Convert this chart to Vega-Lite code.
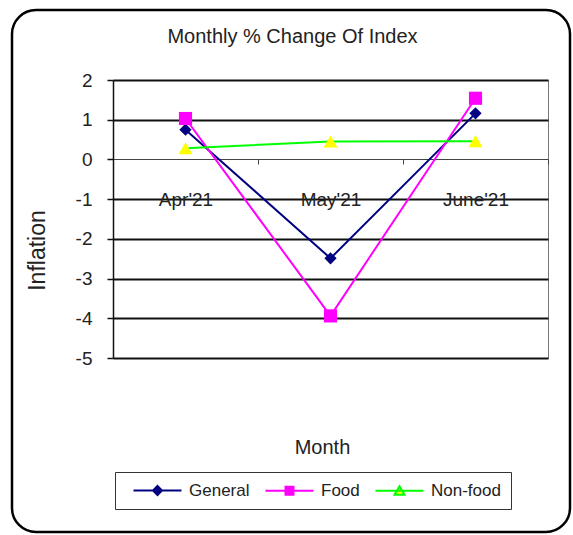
{
  "$schema": "https://vega.github.io/schema/vega-lite/v6.json",
  "width": 435,
  "height": 278,
  "autosize": {"type": "none"},
  "padding": {"left": 113, "top": 80, "right": 25, "bottom": 177},
  "background": "white",
  "config": {
    "font": "Liberation Sans",
    "view": {"stroke": "#777777", "strokeWidth": 1}
  },
  "title": {
    "text": "Monthly % Change Of Index",
    "font": "Liberation Sans",
    "fontSize": 20,
    "fontWeight": "normal",
    "color": "#222222",
    "anchor": "middle",
    "baseline": "alphabetic",
    "offset": -54,
    "dx": -38
  },
  "data": {
    "values": [
      {"month": "Apr'21", "series": "General", "value": 0.75},
      {"month": "May'21", "series": "General", "value": -2.49},
      {"month": "June'21", "series": "General", "value": 1.16},
      {"month": "Apr'21", "series": "Food", "value": 1.03},
      {"month": "May'21", "series": "Food", "value": -3.94},
      {"month": "June'21", "series": "Food", "value": 1.54},
      {"month": "Apr'21", "series": "Non-food", "value": 0.28},
      {"month": "May'21", "series": "Non-food", "value": 0.45},
      {"month": "June'21", "series": "Non-food", "value": 0.46}
    ]
  },
  "encoding": {
    "x": {
      "field": "month",
      "type": "ordinal",
      "sort": ["Apr'21", "May'21", "June'21"],
      "scale": {"type": "band", "paddingInner": 0, "paddingOuter": 0},
      "axis": {
        "orient": "bottom",
        "offset": -199,
        "labelAngle": 0,
        "domain": true,
        "domainColor": "#444444",
        "domainWidth": 1,
        "ticks": true,
        "tickBand": "extent",
        "tickSize": 5,
        "tickColor": "#444444",
        "labelFont": "Liberation Sans",
        "labelFontSize": 19,
        "labelColor": "#222222",
        "labelBaseline": "alphabetic",
        "labelPadding": 41,
        "grid": false,
        "title": "Month",
        "titleFont": "Liberation Sans",
        "titleFontSize": 20,
        "titleFontWeight": "normal",
        "titleColor": "#222222",
        "titleBaseline": "alphabetic",
        "titleX": 209,
        "titleY": 294
      }
    },
    "y": {
      "field": "value",
      "type": "quantitative",
      "scale": {"domain": [-5, 2], "nice": false, "zero": false},
      "axis": {
        "values": [-5, -4, -3, -2, -1, 0, 1, 2],
        "labelExpr": "'' + datum.value",
        "grid": true,
        "gridColor": {"condition": {"test": "datum.value === 0", "value": "transparent"}, "value": "#111111"},
        "gridWidth": 2,
        "domain": true,
        "domainColor": "#111111",
        "domainWidth": 1.5,
        "ticks": true,
        "tickSize": 6,
        "tickColor": "#111111",
        "tickWidth": 1.5,
        "labelFont": "Liberation Sans",
        "labelFontSize": 19,
        "labelColor": "#222222",
        "labelPadding": 15,
        "title": "Inflation",
        "titleFont": "Liberation Sans",
        "titleFontSize": 23,
        "titleFontWeight": "normal",
        "titleColor": "#222222",
        "titleAngle": -90,
        "titleAlign": "center",
        "titleBaseline": "middle",
        "titleX": -76,
        "titleY": 170
      }
    }
  },
  "resolve": {"scale": {"fill": "independent", "stroke": "independent", "shape": "independent", "size": "independent"}},
  "layer": [
    {
      "data": {"values": [{}]},
      "mark": {"type": "rect", "fill": "transparent", "stroke": "#000000", "strokeWidth": 2.5, "cornerRadius": 24, "clip": false},
      "encoding": {
        "x": {"value": -101},
        "x2": {"value": 457},
        "y": {"value": -70},
        "y2": {"value": 452}
      }
    },
    {
      "mark": {"type": "line", "strokeWidth": 2},
      "encoding": {
        "stroke": {
          "field": "series",
          "type": "nominal",
          "scale": {"domain": ["General", "Food", "Non-food"], "range": ["#000080", "#FF00FF", "#00FF00"]},
          "legend": null
        },
        "detail": {"field": "series"}
      }
    },
    {
      "mark": {"type": "point", "filled": true, "opacity": 1},
      "encoding": {
        "fill": {
          "field": "series",
          "type": "nominal",
          "scale": {"domain": ["General", "Food", "Non-food"], "range": ["#000080", "#FF00FF", "#FFFF00"]},
          "legend": null
        },
        "shape": {
          "field": "series",
          "type": "nominal",
          "scale": {"domain": ["General", "Food", "Non-food"], "range": ["diamond", "square", "triangle-up"]},
          "legend": null
        },
        "size": {
          "field": "series",
          "type": "nominal",
          "scale": {"domain": ["General", "Food", "Non-food"], "range": [150, 196, 150]},
          "legend": null
        }
      }
    },
    {
      "data": {"values": []},
      "mark": {"type": "point", "filled": true, "opacity": 1, "strokeWidth": 2},
      "encoding": {
        "fill": {
          "field": "series",
          "type": "nominal",
          "scale": {"domain": ["General", "Food", "Non-food"], "range": ["#000080", "#FF00FF", "#FFFF00"]},
          "legend": {
            "orient": "none",
            "legendX": 2,
            "legendY": 392,
            "direction": "horizontal",
            "columns": 3,
            "title": null,
            "padding": 10,
            "strokeColor": "#333333",
            "fillColor": "white",
            "symbolSize": 100,
            "symbolStrokeWidth": 2,
            "symbolOffset": 5,
            "labelOffset": 42,
            "columnPadding": 7,
            "labelFont": "Liberation Sans",
            "labelFontSize": 17,
            "labelColor": "#222222"
          }
        },
        "stroke": {
          "field": "series",
          "type": "nominal",
          "scale": {"domain": ["General", "Food", "Non-food"], "range": ["#000080", "#FF00FF", "#00FF00"]},
          "legend": {
            "orient": "none",
            "legendX": 2,
            "legendY": 392,
            "direction": "horizontal",
            "columns": 3,
            "title": null,
            "padding": 10,
            "strokeColor": "#333333",
            "fillColor": "white",
            "symbolSize": 100,
            "symbolStrokeWidth": 2,
            "symbolOffset": 5,
            "labelOffset": 42,
            "columnPadding": 7,
            "labelFont": "Liberation Sans",
            "labelFontSize": 17,
            "labelColor": "#222222"
          }
        },
        "shape": {
          "field": "series",
          "type": "nominal",
          "scale": {"domain": ["General", "Food", "Non-food"], "range": ["M-1,0H8.6M3.8,-0.9L4.7,0L3.8,0.9L2.9,0Z", "M-1,0H8.6M3,-0.8H4.6V0.8H3Z", "M-1,0H8.6M3.8,-0.9L4.8,0.8H2.8Z"]},
          "legend": {
            "orient": "none",
            "legendX": 2,
            "legendY": 392,
            "direction": "horizontal",
            "columns": 3,
            "title": null,
            "padding": 10,
            "strokeColor": "#333333",
            "fillColor": "white",
            "symbolSize": 100,
            "symbolStrokeWidth": 2,
            "symbolOffset": 5,
            "labelOffset": 42,
            "columnPadding": 7,
            "labelFont": "Liberation Sans",
            "labelFontSize": 17,
            "labelColor": "#222222"
          }
        }
      }
    }
  ]
}
